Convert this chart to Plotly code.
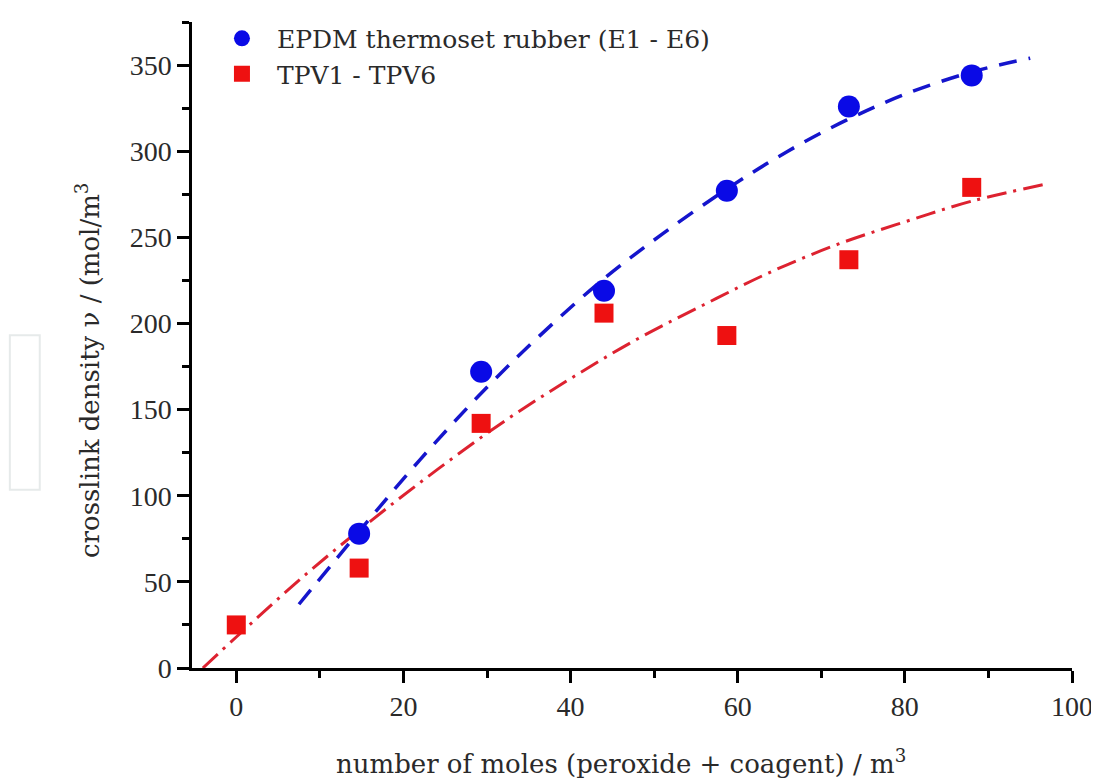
import plotly.graph_objects as go

# measured points
moles = [0, 14.7, 29.3, 44.0, 58.7, 73.3, 88.0]
epdm_x = moles[1:]
epdm_density = [78, 172, 219, 277, 326, 344]
tpv_x = moles
tpv_density = [25, 58, 142, 206, 193, 237, 279]

# fitted trend lines
epdm_fit_x = [7.5, 15, 22, 30, 37, 44, 51, 59, 66, 73, 80, 88, 95]
epdm_fit_y = [37, 81, 121, 163, 196, 226, 252, 279, 300, 318, 333, 346, 354]
tpv_fit_x = [-4, 0, 8, 16, 24, 32, 40, 48, 56, 64, 72, 80, 88, 97]
tpv_fit_y = [0, 18, 53, 85, 115, 143, 168, 191, 211, 230, 246, 259, 271, 281]

BLUE = "#0a0ae6"
RED = "#ee1111"
TICK_FONT = dict(family="Liberation Serif", size=28, color="#2a2a2a")
TEXT_FONT = dict(family="DejaVu Serif", size=25, color="#2a2a2a")

fig = go.Figure()

fig.add_trace(go.Scatter(
    x=epdm_fit_x, y=epdm_fit_y, mode="lines", line_shape="spline",
    line=dict(color="#1515cc", width=3.5, dash="18px,12px"), showlegend=False,
))
fig.add_trace(go.Scatter(
    x=tpv_fit_x, y=tpv_fit_y, mode="lines", line_shape="spline",
    line=dict(color="#dd2230", width=3, dash="20px,7px,3px,7px"), showlegend=False,
))
fig.add_trace(go.Scatter(
    x=epdm_x, y=epdm_density, mode="markers", name="EPDM thermoset rubber (E1 - E6)",
    marker=dict(symbol="circle", size=22, color=BLUE),
))
fig.add_trace(go.Scatter(
    x=tpv_x, y=tpv_density, mode="markers", name="TPV1 - TPV6",
    marker=dict(symbol="square", size=19, color=RED),
))

axis_common = dict(
    showgrid=False, zeroline=False, showline=True, linecolor="black", linewidth=2.5,
    ticks="outside", ticklen=12, tickwidth=2.5, tickcolor="black", tickfont=TICK_FONT,
)
fig.update_xaxes(
    range=[-5.3, 100], tickvals=[0, 20, 40, 60, 80, 100],
    minor=dict(dtick=10, tick0=0, ticks="outside", ticklen=7, tickwidth=2.5, tickcolor="black"),
    **axis_common,
)
fig.update_yaxes(
    range=[0, 375], tickvals=[0, 50, 100, 150, 200, 250, 300, 350],
    minor=dict(dtick=25, tick0=0, ticks="outside", ticklen=7, tickwidth=2.5, tickcolor="black"),
    **axis_common,
)

fig.add_annotation(
    text="number of moles (peroxide + coagent) / m<sup>3</sup>",
    xref="paper", yref="paper", x=0.487, y=-0.145, xanchor="center", yanchor="middle",
    showarrow=False, font=dict(TEXT_FONT, size=26),
)
fig.add_annotation(
    text="crosslink density ν / (mol/m<sup>3</sup>",
    xref="paper", yref="paper", x=-0.118, y=0.46, xanchor="center", yanchor="middle",
    textangle=-90, showarrow=False, font=dict(TEXT_FONT, size=26),
)
# faint box at the far left of the scan
fig.add_shape(
    type="rect", xref="paper", yref="paper", x0=-0.207, x1=-0.173, y0=0.276, y1=0.515,
    line=dict(color="#e6eaea", width=2),
)

fig.update_layout(
    width=1099, height=782,
    margin=dict(l=184, r=35, t=8, b=122),
    paper_bgcolor="white", plot_bgcolor="white",
    legend=dict(x=0.017, y=1.01, xanchor="left", yanchor="top", font=TEXT_FONT,
                bgcolor="rgba(0,0,0,0)", itemsizing="trace", itemwidth=60, tracegroupgap=0),
)

fig.write_html("out.html")
